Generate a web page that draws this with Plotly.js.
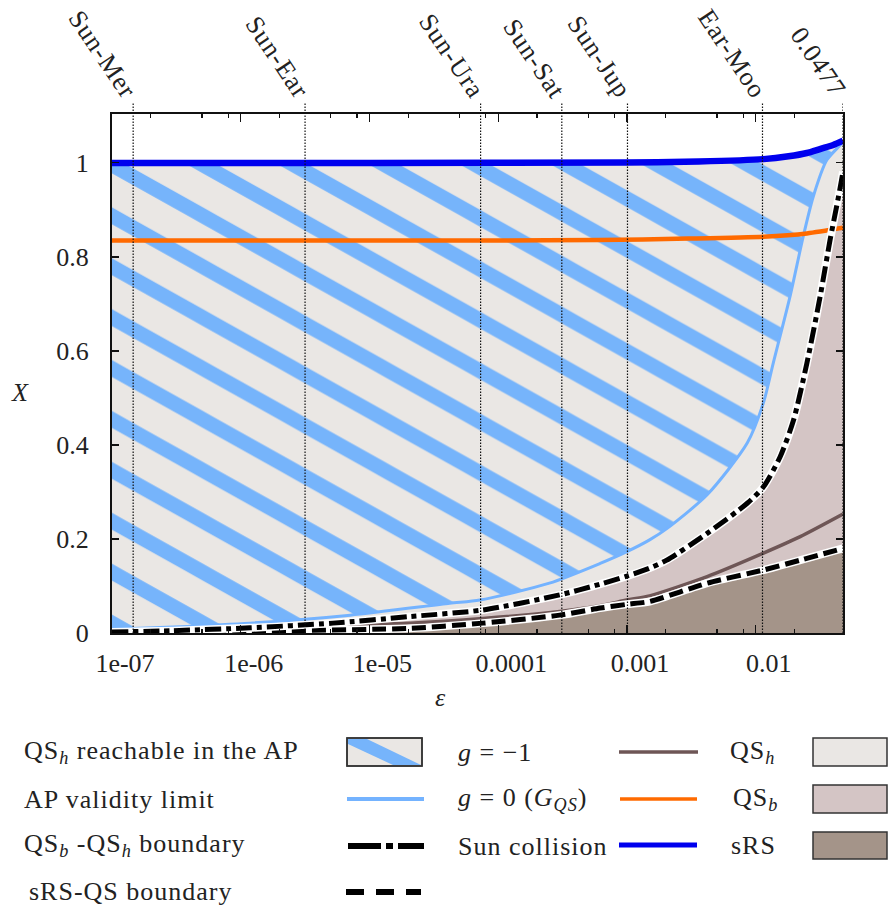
<!DOCTYPE html>
<html><head><meta charset="utf-8">
<script src="https://cdn.plot.ly/plotly-3.0.1.min.js"></script>
<style>body{margin:0;background:#fff} .annotation-text{letter-spacing:1px}</style>
</head><body><div id="chart" style="width:889px;height:907px"></div>
<script>
// ---------------- data ----------------
const xTickVals = [1e-7, 1e-6, 1e-5, 1e-4, 1e-3, 1e-2];
const xTickText = ['1e-07', '1e-06', '1e-05', '0.0001', '0.001', '0.01'];
const xMinorTicks = [2e-7,5e-7,8e-7,2e-6,5e-6,8e-6,2e-5,5e-5,8e-5,2e-4,5e-4,8e-4,2e-3,5e-3,8e-3,2e-2];
const yTickVals = [0, 0.2, 0.4, 0.6, 0.8, 1];

const refNames = ['Sun-Mer', 'Sun-Ear', 'Sun-Ura', 'Sun-Sat', 'Sun-Jup', 'Ear-Moo', '0.0477'];
const refEps   = [1.46e-7, 3.16e-6, 7.3e-5, 3.12e-4, 1.01e-3, 0.0113, 0.0477];

// Sun collision (sRS limit)
const sunEps = [1e-7, 1e-5, 1e-3, 3.6e-3, 0.0115, 0.018, 0.025, 0.032, 0.04, 0.0477];
const sunX   = [1.0, 1.0, 1.001, 1.003, 1.008, 1.014, 1.021, 1.03, 1.038, 1.047];

// g = 0 (G_QS)
const g0Eps = [1e-7, 1e-5, 1e-4, 6e-4, 3e-3, 0.0115, 0.025, 0.0477];
const g0X   = [0.835, 0.835, 0.835, 0.836, 0.839, 0.843, 0.850, 0.862];

// AP validity limit
const apEps = [1e-7, 3e-7, 1.18e-6, 7.1e-6, 4.2e-5, 7.2e-5, 2.5e-4, 6.2e-4, 1e-3, 1.5e-3, 2.04e-3, 4.2e-3, 8.6e-3, 0.0115, 0.0137, 0.0185, 0.0234, 0.028, 0.0357, 0.0454, 0.0477];
const apX   = [0.008, 0.013, 0.021, 0.038, 0.063, 0.070, 0.106, 0.148, 0.173, 0.198, 0.222, 0.294, 0.404, 0.49, 0.574, 0.716, 0.843, 0.928, 1.006, 1.038, 1.045];

// QSb - QSh boundary
const bhEps = [1e-7, 3e-7, 1.18e-6, 5.2e-6, 2.07e-5, 7.6e-5, 3e-4, 6.2e-4, 1e-3, 1.5e-3, 2.04e-3, 4.2e-3, 8.6e-3, 0.0115, 0.0155, 0.0197, 0.025, 0.0317, 0.0379, 0.044, 0.0477];
const bhX   = [0.002, 0.005, 0.011, 0.021, 0.035, 0.049, 0.081, 0.104, 0.121, 0.138, 0.155, 0.212, 0.276, 0.311, 0.375, 0.453, 0.574, 0.716, 0.837, 0.928, 0.981];

// g = -1
const gm1Eps = [1e-7, 1.18e-6, 2.07e-5, 7.6e-5, 3e-4, 6.2e-4, 1e-3, 1.5e-3, 4.2e-3, 0.0115, 0.0222, 0.0477];
const gm1X   = [0.003, 0.010, 0.021, 0.031, 0.046, 0.058, 0.070, 0.079, 0.12, 0.17, 0.205, 0.253];

// sRS - QS boundary
const rsEps = [1e-7, 1.18e-6, 2.07e-5, 7.6e-5, 3e-4, 6.2e-4, 1e-3, 1.5e-3, 4.2e-3, 0.0115, 0.0222, 0.0477];
const rsX   = [0.001, 0.004, 0.010, 0.021, 0.038, 0.053, 0.061, 0.067, 0.106, 0.134, 0.155, 0.18];

// ---------------- styles ----------------
const C = {
  qsh: '#eae7e4', qsb: '#d4c5c5', srs: '#a49489',
  hatch: '#76b4fb', ap: '#74b3ff', sun: '#0000ee', g0: '#ff6a00', gm1: '#6e5656'
};
const FONT = 'Liberation Serif';
const f = (s) => ({family: FONT, size: s, color: '#222'});
const SM = 0.7;

const L = 112, R = 46, T = 114, B = 274, W = 889, H = 907;
const pw = W - L - R, ph = H - T - B;
const px = (x) => (x - L) / pw;
const py = (y) => (H - B - y) / ph;

const ln = (w, c, dash) => ({width: w, color: c, shape: 'spline', smoothing: SM, dash: dash || 'solid'});

const traces = [
  // fills
  {x: rsEps, y: rsX, mode: 'lines', line: ln(0, C.srs), fill: 'tozeroy', fillcolor: C.srs, hoverinfo: 'skip'},
  {x: bhEps, y: bhX, mode: 'lines', line: ln(0, C.qsb), fill: 'tonexty', fillcolor: C.qsb, hoverinfo: 'skip'},
  {x: sunEps, y: sunX, mode: 'lines', line: ln(0, C.qsh), fill: 'tonexty', fillcolor: C.qsh, hoverinfo: 'skip'},
  {x: apEps, y: apX, mode: 'lines', line: ln(0, C.ap), hoverinfo: 'skip'},
  {x: sunEps, y: sunX, mode: 'lines', line: ln(0, C.sun), fill: 'tonexty', fillcolor: C.qsh,
   fillpattern: {shape: '\\', bgcolor: C.qsh, fgcolor: C.hatch, fgopacity: 1, size: 36, solidity: 0.33, fillmode: 'replace'},
   hoverinfo: 'skip'},
  // lines
  {x: apEps, y: apX, mode: 'lines', line: ln(3, C.ap)},
  {x: gm1Eps, y: gm1X, mode: 'lines', line: ln(3.5, C.gm1)},
  {x: g0Eps, y: g0X, mode: 'lines', line: ln(4.5, C.g0)},
  {x: rsEps, y: rsX, mode: 'lines', line: ln(8, '#ffffff')},
  {x: rsEps, y: rsX, mode: 'lines', line: ln(5, '#000000', '14px,6px')},
  {x: bhEps, y: bhX, mode: 'lines', line: ln(8, '#ffffff')},
  {x: bhEps, y: bhX, mode: 'lines', line: ln(5, '#000000', '16px,5px,5px,5px')},
  {x: sunEps, y: sunX, mode: 'lines', line: ln(6.5, C.sun)}
];

const shapes = [];
const annotations = [];

// reference vertical dotted lines + rotated labels
refEps.forEach((e, i) => {
  shapes.push({type: 'line', xref: 'x', yref: 'paper', x0: e, x1: e, y0: 0, y1: 1 + 12 / ph,
    line: {color: '#111', width: 1.2, dash: '1.5px,1.5px'}});
  annotations.push({xref: 'x', yref: 'paper', x: Math.log10(e), y: 1, text: refNames[i], showarrow: false,
    textangle: 56, xanchor: 'right', yanchor: 'bottom', xshift: 12, yshift: 8, font: f(26)});
});

// axis titles
annotations.push({xref: 'paper', yref: 'paper', x: px(440), y: py(697), text: '<i>ε</i>', showarrow: false, font: f(26), xanchor: 'center', yanchor: 'middle'});
annotations.push({xref: 'paper', yref: 'paper', x: px(20), y: py(392), text: '<i>X</i>', showarrow: false, font: f(26), xanchor: 'center', yanchor: 'middle'});

// ---------------- legend (manual) ----------------
function txt(x, y, s, anchor) {
  annotations.push({xref: 'paper', yref: 'paper', x: px(x), y: py(y), text: s, showarrow: false,
    font: f(26), xanchor: anchor || 'left', yanchor: 'middle'});
}
function hline(x0, x1, y, color, width, dash) {
  shapes.push({type: 'line', xref: 'paper', yref: 'paper', x0: px(x0), x1: px(x1), y0: py(y), y1: py(y),
    line: {color: color, width: width, dash: dash || 'solid'}});
}
function box(x0, y0, x1, y1, color) {
  shapes.push({type: 'rect', xref: 'paper', yref: 'paper', x0: px(x0), x1: px(x1), y0: py(y1), y1: py(y0),
    fillcolor: color, line: {color: '#333', width: 1.5}});
}
// column 1
txt(22, 752, 'QS<sub><i>h</i></sub> reachable in the AP');
txt(22, 799, 'AP validity limit');
txt(22, 845, 'QS<sub><i>b</i></sub> -QS<sub><i>h</i></sub> boundary');
txt(27, 892, 'sRS-QS boundary');
box(347, 738, 422, 766, C.qsh);
shapes.push({type: 'path', xref: 'paper', yref: 'paper',
  path: 'M' + px(348) + ',' + py(739) + ' L' + px(367) + ',' + py(739) + ' L' + px(421) + ',' + py(765) +
        ' L' + px(393) + ',' + py(765) + ' L' + px(348) + ',' + py(744) + ' Z',
  fillcolor: C.hatch, line: {width: 0}});
box(347, 738, 422, 766, 'rgba(0,0,0,0)');
hline(347, 424, 799, C.ap, 4);
hline(348, 424, 846, '#000', 6, '33px,5px,7px,5px');
hline(346, 421, 892, '#000', 6, '18px,12px');
// column 2
txt(456, 752, '<i>g</i> = −1');
txt(456, 799, '<i>g</i> = 0 (<i>G</i><sub><i>QS</i></sub>)');
txt(456, 846, 'Sun collision');
hline(619, 698, 752, C.gm1, 3.5);
hline(620, 697, 799, C.g0, 3.5);
hline(619, 697, 845, C.sun, 5);
// column 3
txt(752, 752, 'QS<sub><i>h</i></sub>', 'center');
txt(755, 799, 'QS<sub><i>b</i></sub>', 'center');
txt(753, 845, 'sRS', 'center');
box(813, 738, 887, 766, C.qsh);
box(813, 785, 887, 813, C.qsb);
box(813, 832, 887, 859, C.srs);

const layout = {
  width: W, height: H,
  margin: {l: L, r: R, t: T, b: B},
  paper_bgcolor: '#fff', plot_bgcolor: '#fff',
  showlegend: false,
  font: f(26),
  xaxis: {
    type: 'log', range: [Math.log10(1e-7), Math.log10(0.0477)],
    tickmode: 'array', tickvals: xTickVals, ticktext: xTickText,
    ticks: 'inside', ticklen: 8, tickwidth: 1.2, tickcolor: '#111',
    minor: {tickmode: 'array', tickvals: xMinorTicks, ticks: 'inside', ticklen: 4, tickwidth: 1.2, tickcolor: '#111'},
    showline: true, linecolor: '#111', linewidth: 2, mirror: 'ticks',
    showgrid: false, zeroline: false,
    tickfont: f(26), ticklabelshift: 13, ticklabelstandoff: 6
  },
  yaxis: {
    range: [0, 1.104],
    tickmode: 'array', tickvals: yTickVals,
    ticks: 'inside', ticklen: 7, tickwidth: 1.2, tickcolor: '#111',
    showline: true, linecolor: '#111', linewidth: 2, mirror: 'ticks',
    showgrid: false, zeroline: false,
    tickfont: f(26), ticklabelstandoff: 16
  },
  shapes: shapes,
  annotations: annotations
};

Plotly.newPlot('chart', traces, layout, {staticPlot: true}).then(function (gd) {
  gd.querySelectorAll('pattern').forEach(function (p) {
    p.setAttribute('patternTransform', 'scale(1.786,1)');
  });
});
</script>
</body></html>
